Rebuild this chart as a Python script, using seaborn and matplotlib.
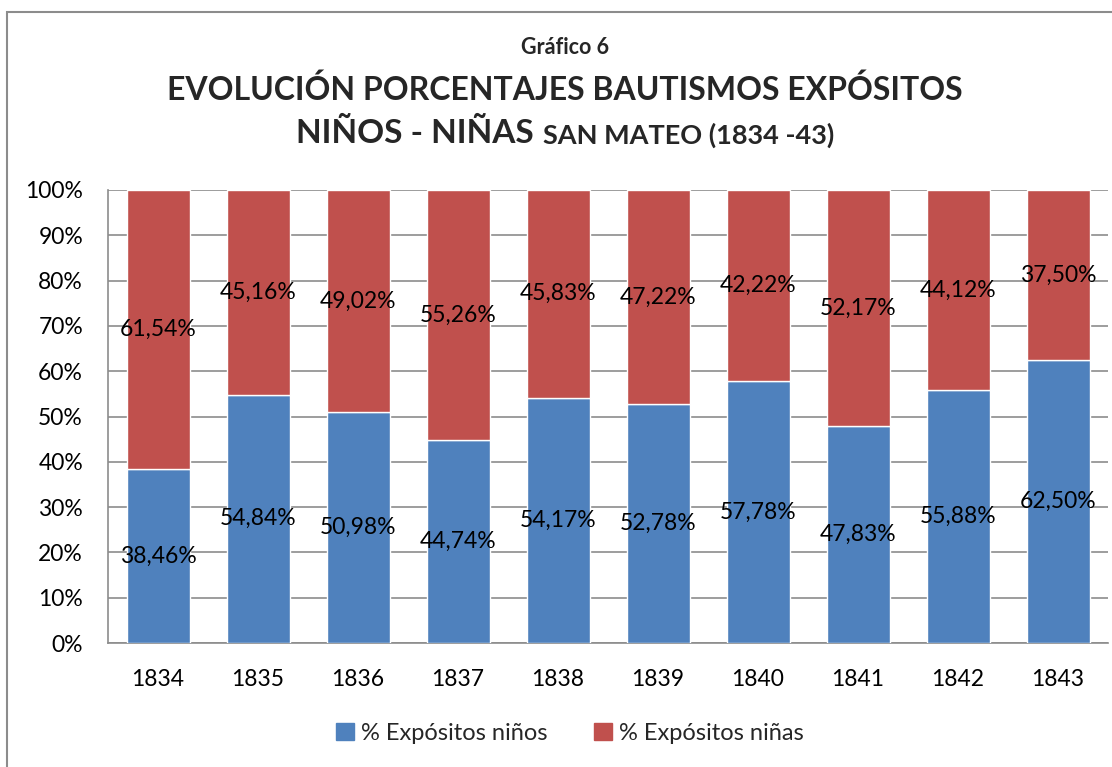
import matplotlib
matplotlib.use("Agg")
import matplotlib.pyplot as plt
import matplotlib.patches as mpatches
from matplotlib.ticker import FuncFormatter
import pandas as pd
import seaborn as sns

years = ["1834", "1835", "1836", "1837", "1838", "1839", "1840", "1841", "1842", "1843"]
ninos = [38.46, 54.84, 50.98, 44.74, 54.17, 52.78, 57.78, 47.83, 55.88, 62.50]
ninas = [61.54, 45.16, 49.02, 55.26, 45.83, 47.22, 42.22, 52.17, 44.12, 37.50]
series_names = ["% Expósitos niños", "% Expósitos niñas"]

BLUE = "#4F81BD"
RED = "#C0504D"
GRID = "#8C8C8C"

sns.set_theme(style="white")
plt.rcParams["font.family"] = ["Lato", "DejaVu Sans"]

df = pd.DataFrame({"year": years, "ninos": ninos, "ninas": ninas})

fig = plt.figure(figsize=(11.12, 7.67), dpi=100)
ax = fig.add_axes([108 / 1112, 1 - 643 / 767, 1000 / 1112, 453 / 767])

sns.barplot(data=df, x="year", y="ninos", color=BLUE, width=0.63,
            saturation=1, ax=ax, zorder=3, label=series_names[0])
sns.barplot(data=df, x="year", y="ninas", color=RED, width=0.63,
            saturation=1, ax=ax, zorder=3, bottom=df["ninos"],
            label=series_names[1])

# data labels centred in each segment
for i, (b, g) in enumerate(zip(ninos, ninas)):
    ax.text(i, b / 2, f"{b:.2f}%".replace(".", ","), ha="center",
            va="center", fontsize=16.5, color="black", zorder=4)
    ax.text(i, b + g / 2, f"{g:.2f}%".replace(".", ","), ha="center",
            va="center", fontsize=16.5, color="black", zorder=4)

ax.set_ylim(0, 100)
ax.set_xlim(-0.5, len(years) - 0.5)
ax.set_yticks(range(0, 101, 10))
ax.yaxis.set_major_formatter(FuncFormatter(lambda v, _: f"{int(v)}%"))
ax.grid(axis="y", color=GRID, linewidth=1.2, zorder=0)
ax.set_axisbelow(True)
ax.set_xlabel("")
ax.set_ylabel("")
ax.tick_params(axis="both", labelsize=16.5, length=0, colors="black")
ax.tick_params(axis="y", pad=18)
ax.tick_params(axis="x", pad=19)
for side in ["top", "right"]:
    ax.spines[side].set_visible(False)
for side in ["left", "bottom"]:
    ax.spines[side].set_color(GRID)
    ax.spines[side].set_linewidth(1.2)
if ax.get_legend() is not None:
    ax.get_legend().remove()

# outer chart border
fig.patches.append(mpatches.Rectangle(
    (7 / 1112, -0.01), 1.02, 1 - 12 / 767 + 0.01, transform=fig.transFigure,
    fill=False, edgecolor="#8C8C8C", linewidth=1.5))

# titles
fig.text(0.508, 1 - 47 / 767, "Gráfico 6", ha="center", va="center",
         fontsize=15.5, fontweight="bold")
fig.text(0.508, 1 - 90 / 767, "EVOLUCIÓN PORCENTAJES BAUTISMOS EXPÓSITOS",
         ha="center", va="center", fontsize=23, fontweight="bold")
t1 = fig.text(0, 1 - 133 / 767, "NIÑOS - NIÑAS", ha="left", va="center",
              fontsize=24, fontweight="bold")
t2 = fig.text(0, 1 - 135 / 767, "SAN MATEO (1834 -43)", ha="left",
              va="center", fontsize=19.5, fontweight="bold")
fig.canvas.draw()
r = fig.canvas.get_renderer()
w1 = t1.get_window_extent(r).width
w2 = t2.get_window_extent(r).width
gap = 10
x0 = 565 - (w1 + gap + w2) / 2
t1.set_x(x0 / 1112)
t2.set_x((x0 + w1 + gap) / 1112)

handles = [mpatches.Patch(color=BLUE), mpatches.Patch(color=RED)]
fig.legend(handles, series_names, loc="center", ncol=2, frameon=False,
           bbox_to_anchor=(570 / 1112, 1 - 733 / 767), fontsize=17,
           handlelength=0.75, handleheight=0.75, handletextpad=0.3,
           columnspacing=2.0)

fig.savefig("out.png", dpi=100)
